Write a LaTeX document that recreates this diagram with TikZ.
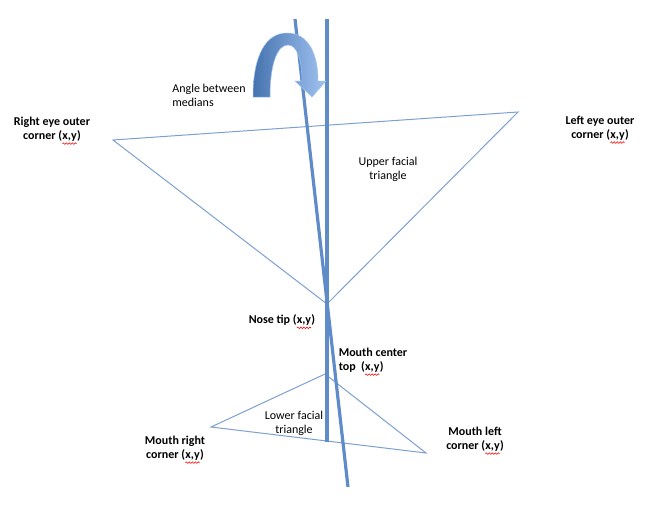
\documentclass[tikz,border=0pt]{standalone}
\usepackage{fontspec}
\setmainfont{Carlito}
\usetikzlibrary{decorations.pathmorphing}
\definecolor{thinline}{RGB}{125,160,210}
\definecolor{thickline}{RGB}{95,140,200}
\definecolor{arrdark}{RGB}{70,115,175}
\definecolor{arrlight}{RGB}{160,195,240}
\newcommand\wavy[1]{\tikz[baseline=(w.base)]{\node[inner sep=0pt,outer sep=0pt,font=\fontsize{12}{13.5}\selectfont\bfseries](w){#1};\draw[red,line width=0.6pt,decorate,decoration={snake,amplitude=0.8pt,segment length=3pt}]([yshift=-2pt]w.south west)--([yshift=-2pt]w.south east);}}
\begin{document}
\begin{tikzpicture}[x=1pt,y=-1pt,
  thinedge/.style={draw=thinline,line width=1pt},
  thickedge/.style={draw=thickline,line width=3.2pt},
  lbl/.style={font=\fontsize{12}{14}\selectfont,align=center,inner sep=0pt},
  blbl/.style={lbl,font=\fontsize{12}{14}\selectfont\bfseries}]
\useasboundingbox (0,0) rectangle (651,523);
% points
\coordinate (re) at (113,140);
\coordinate (le) at (518,112);
\coordinate (nt) at (327,304);
\coordinate (mt) at (325,374);
\coordinate (mr) at (211,427);
\coordinate (ml) at (426,453);
\coordinate (vt) at (327,19);
\coordinate (vb) at (327,442);
\coordinate (tt) at (295,19);
\coordinate (tb) at (348,487);
% triangles
\draw[thinedge,line join=miter] (re) -- (le) -- (nt) -- cycle;
\draw[thinedge] (mt) -- (ml) -- (mr) -- cycle;
% medians
\draw[thickedge] (vt) -- (vb);
\draw[thickedge] (tt) -- (tb);
% curved arrow
\shade[left color=arrdark,right color=arrlight,draw=arrlight,line width=0.5pt]
  (253,97) .. controls (253,55) and (266,33) .. (287,33)
  .. controls (309,33) and (318,55) .. (318,81)
  -- (326,81) -- (312,97) -- (295,81) -- (302,81)
  .. controls (302,60) and (297,45) .. (288,45)
  .. controls (278,45) and (270,62) .. (270,97) -- cycle;
% labels
\node[lbl,align=left] (angle) at (209,95) {Angle between\\medians};
\node[blbl] (relbl) at (52,131) {Right eye outer\\corner (\wavy{x,y})};
\node[blbl] (lelbl) at (600,130) {Left eye outer\\corner (\wavy{x,y})};
\node[lbl] (upper) at (388,169) {Upper facial\\triangle};
\node[blbl] (ntlbl) at (282,322) {Nose tip (\wavy{x,y})};
\node[blbl,align=left] (mtlbl) at (373,362) {Mouth center\\top~ (\wavy{x,y})};
\node[lbl] (lower) at (294,423) {Lower facial\\triangle};
\node[blbl] (mrlbl) at (175,450) {Mouth right\\corner (\wavy{x,y})};
\node[blbl] (mllbl) at (475,441) {Mouth left\\corner (\wavy{x,y})};
\end{tikzpicture}
\end{document}
